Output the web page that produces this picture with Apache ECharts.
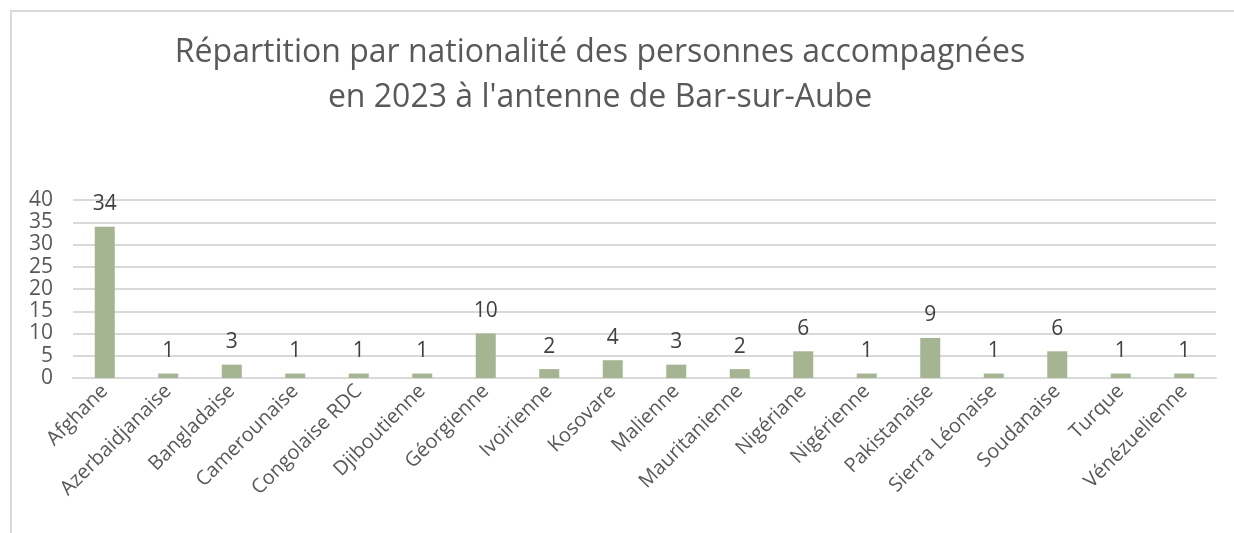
<!DOCTYPE html>
<html>
<head>
<meta charset="utf-8">
<script src="https://cdn.jsdelivr.net/npm/echarts@6/dist/echarts.min.js"></script>
<style>
  html, body { margin: 0; padding: 0; background: #fff; }
  #frame { position: absolute; left: 10px; top: 10px; width: 1240px; height: 540px; border-left: 2px solid #d9d9d9; border-top: 2px solid #d9d9d9; }
  #chart { position: absolute; left: 0; top: 0; width: 1234px; height: 533px; }
</style>
</head>
<body>
<div id="frame"></div>
<div id="chart"></div>
<script>
// nationalités
var categories = ['Afghane', 'Azerbaidjanaise', 'Bangladaise', 'Camerounaise', 'Congolaise RDC',
  'Djiboutienne', 'Géorgienne', 'Ivoirienne', 'Kosovare', 'Malienne', 'Mauritanienne',
  'Nigériane', 'Nigérienne', 'Pakistanaise', 'Sierra Léonaise', 'Soudanaise', 'Turque', 'Vénézuelienne'];
var personnes = [34, 1, 3, 1, 1, 1, 10, 2, 4, 3, 2, 6, 1, 9, 1, 6, 1, 1];

var myChart = echarts.init(document.getElementById('chart'));

var option = {
  backgroundColor: 'transparent',
  textStyle: { fontFamily: 'Open Sans' },
  title: {
    text: "Répartition par nationalité des personnes accompagnées\nen 2023 à l'antenne de Bar-sur-Aube",
    left: 595,
    top: 25,
    textAlign: 'center',
    textStyle: {
      fontFamily: 'Open Sans',
      fontSize: 32,
      fontWeight: 'normal',
      color: '#595959',
      lineHeight: 45
    }
  },
  grid: {
    left: 73,
    right: 18,
    top: 200,
    bottom: 155
  },
  xAxis: {
    type: 'category',
    data: categories,
    axisTick: { show: false },
    axisLine: { lineStyle: { color: '#d9d9d9', width: 2 } },
    axisLabel: {
      rotate: 45,
      interval: 0,
      margin: 10,
      fontSize: 20,
      color: '#595959',
      fontFamily: 'Open Sans'
    }
  },
  yAxis: {
    type: 'value',
    min: 0,
    max: 40,
    interval: 5,
    axisLine: { show: false },
    axisTick: { show: false },
    splitLine: { lineStyle: { color: '#d9d9d9', width: 2 } },
    axisLabel: {
      fontSize: 21,
      color: '#595959',
      margin: 20,
      fontFamily: 'Open Sans'
    }
  },
  series: [{
    name: 'Personnes',
    type: 'bar',
    data: personnes,
    barWidth: 20,
    itemStyle: { color: '#a5b592' },
    label: {
      show: true,
      position: 'top',
      distance: 12,
      fontSize: 21,
      color: '#404040',
      fontFamily: 'Open Sans'
    }
  }]
};

myChart.setOption(option);
</script>
</body>
</html>
